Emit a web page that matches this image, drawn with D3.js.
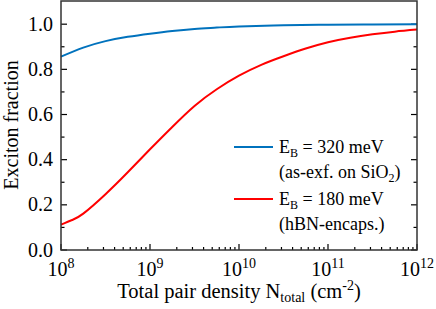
<!DOCTYPE html>
<html>
<head>
<meta charset="utf-8">
<script src="https://cdn.jsdelivr.net/npm/d3@7"></script>
<style>
  body { margin: 0; background: #fff; }
</style>
</head>
<body>
<svg id="fig" width="436" height="309"></svg>
<script>
// data (x = log10 of total pair density)
var logDensity320 = [8, 8.25, 8.5, 8.75, 9, 9.25, 9.5, 9.75, 10, 10.5, 11, 11.5, 12];
var fraction320   = [0.856, 0.896, 0.925, 0.944, 0.958, 0.970, 0.979, 0.985, 0.990, 0.995, 0.998, 0.999, 1.0];

var logDensity180 = [8, 8.125, 8.25, 8.5, 8.75, 9, 9.25, 9.5, 9.75, 10, 10.25, 10.5, 10.75, 11, 11.25, 11.5, 11.75, 12];
var fraction180   = [0.112, 0.133, 0.161, 0.247, 0.344, 0.446, 0.545, 0.638, 0.712, 0.772, 0.820, 0.858, 0.892, 0.920, 0.940, 0.955, 0.967, 0.976];

var yTicks = [0, 0.2, 0.4, 0.6, 0.8, 1.0];
var xDecades = [8, 9, 10, 11, 12];

var series = [
  { xs: logDensity320, ys: fraction320, color: "#0072BD", label: ["320 meV", "(as-exf. on SiO", "2", ")"] },
  { xs: logDensity180, ys: fraction180, color: "#FF0000", label: ["180 meV", "(hBN-encaps.)"] }
];

var FONT = "'Liberation Serif'";
var svg = d3.select("#fig");
var L = 61, R = 417, T = 1, B = 250;

// helper: serif text node
var addText = function (x0, y0, size) {
  return svg.append("text")
    .attr("x", x0).attr("y", y0)
    .attr("font-size", size)
    .attr("fill", "#000")
    .style("font-family", FONT);
};

var x = d3.scaleLog().domain([1e8, 1e12]).range([L, R]);
var y = d3.scaleLinear().domain([0, 1.1]).range([B, T + 0.6]);

// minor ticks
var xMinor = [];
for (var d = 8; d < 12; d++) for (var m = 2; m <= 9; m++) xMinor.push(m * Math.pow(10, d));
var yMinor = d3.range(0.1, 1.1, 0.2);

var axes = svg.append("g").attr("class", "ticks").attr("stroke", "#000").attr("stroke-width", 1.2);

xDecades.forEach(function (e) {
  var px = x(Math.pow(10, e));
  axes.append("line").attr("x1", px).attr("x2", px).attr("y1", B).attr("y2", B - 6);
});
xMinor.forEach(function (v) {
  var px = x(v);
  axes.append("line").attr("x1", px).attr("x2", px).attr("y1", B).attr("y2", B - 3);
});
yTicks.forEach(function (v) {
  var py = y(v);
  axes.append("line").attr("x1", L).attr("x2", L + 6).attr("y1", py).attr("y2", py);
  axes.append("line").attr("x1", R).attr("x2", R - 6).attr("y1", py).attr("y2", py);
});
yMinor.forEach(function (v) {
  var py = y(v);
  axes.append("line").attr("x1", L).attr("x2", L + 3.5).attr("y1", py).attr("y2", py);
  axes.append("line").attr("x1", R).attr("x2", R - 3.5).attr("y1", py).attr("y2", py);
});

// curves
var line = d3.line()
  .x(function (p) { return x(Math.pow(10, p[0])); })
  .y(function (p) { return y(p[1]); })
  .curve(d3.curveNatural);

series.forEach(function (s) {
  svg.append("path")
    .datum(d3.zip(s.xs, s.ys))
    .attr("d", line)
    .attr("fill", "none")
    .attr("stroke", s.color)
    .attr("stroke-width", 2);
});

// frame
svg.append("rect")
  .attr("x", L).attr("y", T).attr("width", R - L).attr("height", B - T)
  .attr("fill", "none").attr("stroke", "#333").attr("stroke-width", 1.5);

// y tick labels
yTicks.forEach(function (v) {
  addText(53, y(v) + 6.5, 20)
    .attr("text-anchor", "end")
    .text(d3.format(".1f")(v));
});

// x tick labels 10^n
xDecades.forEach(function (e) {
  var t = addText(x(Math.pow(10, e)), 276, 20).attr("text-anchor", "middle");
  t.append("tspan").text("10");
  t.append("tspan").attr("font-size", 14).attr("dy", -8).text(e);
});

// axis titles
var xt = addText(239, 298, 20.5).attr("text-anchor", "middle");
xt.append("tspan").text("Total pair density N");
xt.append("tspan").attr("font-size", 14).attr("dy", 4).text("total");
xt.append("tspan").attr("dy", -4).text(" (cm");
xt.append("tspan").attr("font-size", 14).attr("dy", -8).text("-2");
xt.append("tspan").attr("dy", 8).text(")");

addText(0, 0, 20)
  .attr("x", null).attr("y", null)
  .attr("transform", "translate(18,125) rotate(-90)")
  .attr("text-anchor", "middle")
  .text("Exciton fraction");

// legend
var legendY = [147, 199];
series.forEach(function (s, i) {
  var ly = legendY[i];
  svg.append("line")
    .attr("x1", 234).attr("x2", 273).attr("y1", ly).attr("y2", ly)
    .attr("stroke", s.color).attr("stroke-width", 2);
  var t1 = addText(279, ly + 6, 18);
  t1.append("tspan").text("E");
  t1.append("tspan").attr("font-size", 12).attr("dy", 4).text("B");
  t1.append("tspan").attr("dy", -4).text(" = " + s.label[0]);
  var t2 = addText(279, ly + 31, 18);
  t2.append("tspan").text(s.label[1]);
  if (s.label.length > 2) {
    t2.append("tspan").attr("font-size", 12).attr("dy", 4).text(s.label[2]);
    t2.append("tspan").attr("dy", -4).text(s.label[3]);
  }
});
</script>
</body>
</html>
